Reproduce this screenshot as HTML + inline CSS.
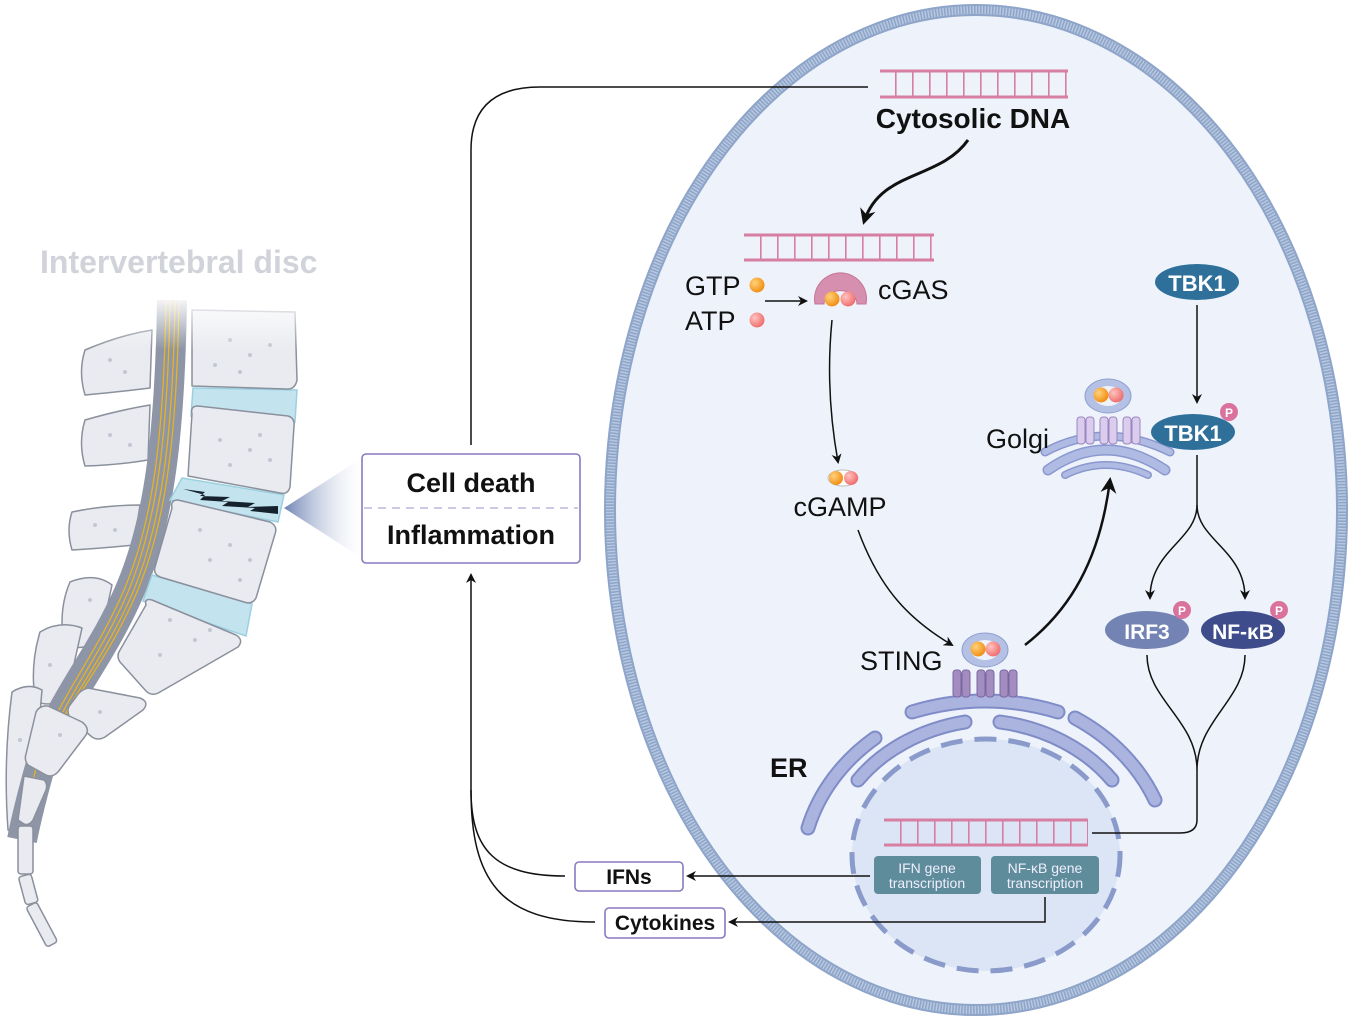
<!DOCTYPE html>
<html><head><meta charset="utf-8"><style>
html,body{margin:0;padding:0;background:#fff;}
svg{display:block;font-family:"Liberation Sans",Arial,sans-serif;}
</style></head><body>
<svg width="1350" height="1019" viewBox="0 0 1350 1019" xmlns="http://www.w3.org/2000/svg">
<defs>
<marker id="ah" markerWidth="10" markerHeight="10" refX="8" refY="5" orient="auto" markerUnits="userSpaceOnUse"><path d="M0,0 L10,5 L0,10 L3,5 Z" fill="#111"/></marker>
<marker id="ahb" markerWidth="16" markerHeight="16" refX="13" refY="8" orient="auto" markerUnits="userSpaceOnUse"><path d="M0,0 L16,8 L0,16 L5,8 Z" fill="#111"/></marker>
<linearGradient id="tri" x1="0" x2="1" y1="0" y2="0"><stop offset="0" stop-color="#6f84b4"/><stop offset="1" stop-color="#ffffff" stop-opacity="0.2"/></linearGradient>
<linearGradient id="fade" x1="0" x2="0" y1="0" y2="1"><stop offset="0" stop-color="#fff" stop-opacity="1"/><stop offset="1" stop-color="#fff" stop-opacity="0"/></linearGradient>
<radialGradient id="org" cx="0.35" cy="0.35" r="0.7"><stop offset="0" stop-color="#ffd27a"/><stop offset="1" stop-color="#f08c10"/></radialGradient>
<radialGradient id="pnk" cx="0.35" cy="0.35" r="0.7"><stop offset="0" stop-color="#ffc4c0"/><stop offset="1" stop-color="#ee6a6a"/></radialGradient>
</defs>

<!-- ===== Spine ===== -->
<g stroke="#8a909c" stroke-width="1.5" fill="#e9ebf0" stroke-linejoin="round">
  <path d="M85,350 Q120,335 152,330 L150,388 Q118,392 85,395 Q78,372 85,350Z"/>
  <path d="M85,420 Q120,410 150,405 L148,460 Q118,465 85,466 Q78,443 85,420Z"/>
  <path d="M72,512 Q105,505 140,505 L134,545 Q105,548 72,550 Q66,530 72,512Z"/>
  <path d="M70,582 Q95,572 112,585 L100,640 Q82,652 64,645 Q58,610 70,582Z"/>
  <path d="M40,632 Q60,620 82,628 L66,700 Q45,708 35,700 Q30,665 40,632Z"/>
  <path d="M12,692 Q28,682 42,690 L30,830 Q18,838 8,830 Q3,760 12,692Z"/>
</g>
<!-- cord -->
<path d="M172,300 C170,430 160,520 130,590 C100,660 60,700 42,760 C32,795 26,820 22,840" stroke="#8d95a6" stroke-width="30" fill="none"/>
<g stroke="#e8b320" stroke-width="1.3" fill="none">
 <path d="M166,300 C164,430 154,520 124,590 C94,660 56,700 38,760 C30,790 28,810 26,820"/>
 <path d="M170,300 C168,430 158,520 128,592 C98,662 60,702 42,762"/>
 <path d="M175,300 C173,430 163,520 133,592 C103,662 66,702 48,750"/>
 <path d="M179,300 C177,430 167,520 137,592 C108,660 72,700 55,735"/>
</g>
<!-- discs -->
<g fill="#c3e4ef" stroke="#9ccfe0" stroke-width="1.5">
  <path d="M193,388 L297,390 L295,422 L191,416Z"/>
  <path d="M182,478 L284,495 L278,522 L170,500Z"/>
  <path d="M152,575 L252,604 L246,636 L143,601Z"/>
</g>
<path d="M183,489 L205,492 L200,496 L230,497 L222,501 L255,503 L248,507 L278,506 L278,514 L250,511 L255,508 L222,506 L228,502 L200,500 L205,495Z" fill="#15222e"/>
<!-- bodies -->
<g stroke="#8a909c" stroke-width="1.5" fill="#e9ebf0" stroke-linejoin="round">
  <path d="M192,310 L295,312 L297,380 Q295,390 286,389 L192,386Z"/>
  <path d="M192,414 Q190,406 198,406 L288,416 Q295,418 294,426 L290,487 Q288,495 280,493 L188,476Z"/>
  <path d="M172,508 Q170,500 178,500 L270,522 Q278,526 275,534 L256,598 Q252,605 244,602 L160,577 Q153,574 155,567Z"/>
  <path d="M146,605 Q144,598 152,600 L236,635 Q244,640 238,647 L160,692 Q152,697 146,691 L120,662 Q116,656 120,650Z"/>
  <path d="M76,697 Q80,690 88,688 L140,698 Q150,702 143,710 L105,737 Q98,741 92,737 L70,718 Q66,710 70,705Z"/>
  <path d="M36,712 Q40,705 48,706 L82,722 Q90,728 86,735 L58,772 Q52,778 46,775 L28,765 Q24,760 26,754Z"/>
  <path d="M24,776 L44,780 Q48,784 46,790 L33,820 Q29,826 24,824 L18,820 Z"/>
  <rect x="18" y="826" width="15" height="48" rx="3"/>
  <rect x="22" y="875" width="13" height="29" rx="3" transform="rotate(-15 28 890)"/>
  <rect x="36" y="902" width="12" height="45" rx="3" transform="rotate(-28 42 925)"/>
</g>
<g fill="#c2c7d2">
  <circle cx="230" cy="340" r="2"/><circle cx="250" cy="355" r="2"/><circle cx="270" cy="345" r="2"/><circle cx="215" cy="365" r="2"/><circle cx="240" cy="372" r="2"/>
  <circle cx="220" cy="440" r="2"/><circle cx="250" cy="450" r="2"/><circle cx="270" cy="460" r="2"/><circle cx="230" cy="465" r="2"/><circle cx="260" cy="435" r="2"/>
  <circle cx="200" cy="530" r="2"/><circle cx="230" cy="545" r="2"/><circle cx="250" cy="560" r="2"/><circle cx="210" cy="560" r="2"/><circle cx="240" cy="580" r="2"/>
  <circle cx="170" cy="620" r="2"/><circle cx="195" cy="640" r="2"/><circle cx="210" cy="630" r="2"/><circle cx="160" cy="655" r="2"/>
  <circle cx="110" cy="360" r="2"/><circle cx="125" cy="372" r="2"/><circle cx="110" cy="435" r="2"/><circle cx="130" cy="445" r="2"/>
  <circle cx="95" cy="525" r="2"/><circle cx="115" cy="530" r="2"/><circle cx="90" cy="600" r="2"/><circle cx="50" cy="665" r="2"/>
  <circle cx="100" cy="712" r="2"/><circle cx="60" cy="735" r="2"/><circle cx="20" cy="740" r="2"/>
</g>
<rect x="60" y="295" width="250" height="55" fill="url(#fade)"/>
<text x="40" y="273" font-size="32" font-weight="bold" fill="#d0d3d9">Intervertebral disc</text>

<!-- pointer triangle -->
<path d="M284,508 L362,458 L362,558Z" fill="url(#tri)"/>

<!-- box -->
<rect x="362" y="454" width="218" height="109" rx="4" fill="#fff" stroke="#8a79c0" stroke-width="1.6"/>
<line x1="364" y1="508" x2="578" y2="508" stroke="#9a90cc" stroke-width="1" stroke-dasharray="8 6"/>
<text x="471" y="492" font-size="27" font-weight="bold" text-anchor="middle" fill="#111">Cell death</text>
<text x="471" y="544" font-size="27" font-weight="bold" text-anchor="middle" fill="#111">Inflammation</text>

<!-- ===== Cell ===== -->
<ellipse cx="976" cy="510" rx="368" ry="502" fill="#eef3fb" stroke="#dfe8f5" stroke-width="8"/>
<ellipse cx="976" cy="510" rx="366" ry="500" fill="none" stroke="#8ea5c9" stroke-width="12"/>
<ellipse cx="976" cy="510" rx="366" ry="500" fill="none" stroke="#b7c8e0" stroke-width="8" stroke-dasharray="1.5 1.5"/>

<!-- feedback line -->
<path d="M471,445 L471,150 Q471,87 540,87 L868,87" fill="none" stroke="#111" stroke-width="1.5"/>

<!-- DNA ladders -->
<g stroke="#d77ea3" fill="none">
 <line x1="880" y1="71" x2="1068" y2="71" stroke-width="3"/><line x1="880" y1="97" x2="1068" y2="97" stroke-width="3"/>
 <line x1="895" y1="84" x2="1068" y2="84" stroke-width="24" stroke-dasharray="1.6 15.4"/>
 <line x1="744" y1="235" x2="934" y2="235" stroke-width="3"/><line x1="744" y1="260" x2="934" y2="260" stroke-width="3"/>
 <line x1="760" y1="247" x2="934" y2="247" stroke-width="24" stroke-dasharray="1.6 15.4"/>
</g>
<text x="973" y="128" font-size="28" font-weight="bold" text-anchor="middle" fill="#111">Cytosolic DNA</text>
<path d="M968,140 C940,180 880,170 864,222" fill="none" stroke="#111" stroke-width="3" marker-end="url(#ahb)"/>

<!-- cGAS -->
<path d="M815,304 A26,26 0 1 1 866,304 L857,304 A16,13 0 0 0 824,304Z" fill="#d68fae" stroke="#c67598" stroke-width="1"/>
<circle cx="832" cy="299" r="7.5" fill="url(#org)"/><circle cx="848" cy="299" r="7.5" fill="url(#pnk)"/>
<text x="878" y="299" font-size="27" fill="#111">cGAS</text>
<text x="685" y="295" font-size="27" fill="#111">GTP</text>
<text x="685" y="330" font-size="27" fill="#111">ATP</text>
<circle cx="757" cy="285" r="7.5" fill="url(#org)"/><circle cx="757" cy="320" r="7.5" fill="url(#pnk)"/>
<line x1="765" y1="301" x2="806" y2="301" stroke="#111" stroke-width="1.5" marker-end="url(#ah)"/>
<path d="M832,320 Q825,390 838,462" fill="none" stroke="#111" stroke-width="1.5" marker-end="url(#ah)"/>
<ellipse cx="843" cy="478" rx="15" ry="8" fill="#fff" stroke="#bbb"/>
<circle cx="836" cy="478" r="7" fill="url(#org)"/><circle cx="851" cy="478" r="7" fill="url(#pnk)"/>
<text x="840" y="516" font-size="27" text-anchor="middle" fill="#111">cGAMP</text>
<path d="M858,530 C880,590 910,620 952,645" fill="none" stroke="#111" stroke-width="1.5" marker-end="url(#ah)"/>

<!-- Nucleus -->
<ellipse cx="986" cy="855" rx="134" ry="116" fill="#dce5f5" stroke="#8a9bcb" stroke-width="5" stroke-dasharray="22 12"/>
<!-- ER -->
<g fill="none" stroke-linecap="round">
 <path d="M808,828 A200,175 0 0 1 875,738" stroke="#7f8cc8" stroke-width="15"/>
 <path d="M808,828 A200,175 0 0 1 875,738" stroke="#aab4de" stroke-width="11"/>
 <path d="M858,780 A170,140 0 0 1 965,722" stroke="#7f8cc8" stroke-width="15"/>
 <path d="M858,780 A170,140 0 0 1 965,722" stroke="#aab4de" stroke-width="11"/>
 <path d="M912,712 Q985,690 1058,712" stroke="#7f8cc8" stroke-width="15"/>
 <path d="M912,712 Q985,690 1058,712" stroke="#aab4de" stroke-width="11"/>
 <path d="M1000,722 A170,140 0 0 1 1112,780" stroke="#7f8cc8" stroke-width="15"/>
 <path d="M1000,722 A170,140 0 0 1 1112,780" stroke="#aab4de" stroke-width="11"/>
 <path d="M1075,718 A200,175 0 0 1 1155,800" stroke="#7f8cc8" stroke-width="15"/>
 <path d="M1075,718 A200,175 0 0 1 1155,800" stroke="#aab4de" stroke-width="11"/>
</g>
<text x="770" y="777" font-size="27" font-weight="bold" fill="#111">ER</text>

<!-- STING on ER -->
<g fill="#a38cc0" stroke="#7a67a0" stroke-width="1">
 <rect x="953" y="670" width="8" height="27" rx="3"/><rect x="962" y="670" width="8" height="27" rx="3"/>
 <rect x="977" y="670" width="8" height="27" rx="3"/><rect x="986" y="670" width="8" height="27" rx="3"/>
 <rect x="1000" y="670" width="8" height="27" rx="3"/><rect x="1009" y="670" width="8" height="27" rx="3"/>
</g>
<ellipse cx="985" cy="650" rx="23" ry="17" fill="#b4c0e4" stroke="#8f9fd0"/>
<ellipse cx="985" cy="650" rx="14" ry="10" fill="#eef3fb"/>
<circle cx="978" cy="649" r="7.5" fill="url(#org)"/><circle cx="993" cy="649" r="7.5" fill="url(#pnk)"/>
<text x="860" y="670" font-size="27" fill="#111">STING</text>
<path d="M1025,645 C1070,610 1100,560 1110,480" fill="none" stroke="#111" stroke-width="2.5" marker-end="url(#ahb)"/>

<!-- Golgi -->
<g fill="none" stroke-linecap="round">
 <path d="M1048,470 Q1105,430 1165,470" stroke="#8a98cf" stroke-width="11"/><path d="M1048,470 Q1105,430 1165,470" stroke="#b0bbe3" stroke-width="8"/>
 <path d="M1065,475 Q1105,455 1148,475" stroke="#8a98cf" stroke-width="8"/><path d="M1065,475 Q1105,455 1148,475" stroke="#b0bbe3" stroke-width="5"/>
 <path d="M1045,452 Q1105,420 1170,452" stroke="#8a98cf" stroke-width="9"/><path d="M1045,452 Q1105,420 1170,452" stroke="#b0bbe3" stroke-width="6"/>
</g>
<g fill="#d9ccec" stroke="#9a86c0" stroke-width="1">
 <rect x="1077" y="417" width="8" height="27" rx="3"/><rect x="1086" y="417" width="8" height="27" rx="3"/>
 <rect x="1100" y="417" width="8" height="27" rx="3"/><rect x="1109" y="417" width="8" height="27" rx="3"/>
 <rect x="1123" y="417" width="8" height="27" rx="3"/><rect x="1132" y="417" width="8" height="27" rx="3"/>
</g>
<ellipse cx="1108" cy="396" rx="23" ry="17" fill="#b4c0e4" stroke="#8f9fd0"/>
<ellipse cx="1108" cy="396" rx="14" ry="10" fill="#eef3fb"/>
<circle cx="1101" cy="395" r="7.5" fill="url(#org)"/><circle cx="1116" cy="395" r="7.5" fill="url(#pnk)"/>
<text x="986" y="448" font-size="27" fill="#111">Golgi</text>

<!-- TBK1 -->
<ellipse cx="1197" cy="282" rx="42" ry="18" fill="#2f709b"/>
<text x="1197" y="291" font-size="22" font-weight="bold" fill="#fff" text-anchor="middle">TBK1</text>
<line x1="1197" y1="305" x2="1197" y2="402" stroke="#111" stroke-width="1.5" marker-end="url(#ah)"/>
<ellipse cx="1193" cy="432" rx="42" ry="18" fill="#2f709b"/>
<text x="1193" y="441" font-size="22" font-weight="bold" fill="#fff" text-anchor="middle">TBK1</text>
<path d="M1197,455 L1197,505 C1197,540 1150,550 1150,598" fill="none" stroke="#111" stroke-width="1.5" marker-end="url(#ah)"/>
<path d="M1197,505 C1197,540 1245,550 1245,598" fill="none" stroke="#111" stroke-width="1.5" marker-end="url(#ah)"/>
<ellipse cx="1147" cy="630" rx="42" ry="19" fill="#7383b4"/>
<text x="1147" y="639" font-size="21" font-weight="bold" fill="#fff" text-anchor="middle">IRF3</text>
<ellipse cx="1243" cy="630" rx="42" ry="19" fill="#3e4c8c"/>
<text x="1243" y="639" font-size="21" font-weight="bold" fill="#fff" text-anchor="middle">NF-κB</text>
<g fill="#d9739e"><circle cx="1229" cy="412" r="9"/><circle cx="1182" cy="610" r="9"/><circle cx="1279" cy="610" r="9"/></g>
<g font-size="12" font-weight="bold" fill="#fff" text-anchor="middle"><text x="1229" y="417">P</text><text x="1182" y="615">P</text><text x="1279" y="615">P</text></g>
<path d="M1147,655 C1147,700 1197,720 1197,770 M1245,655 C1245,700 1197,720 1197,770 L1197,820 Q1197,833 1180,833 L1092,833" fill="none" stroke="#111" stroke-width="1.5"/>

<!-- nuclear DNA -->
<g stroke="#d77ea3" fill="none">
 <line x1="884" y1="820" x2="1088" y2="820" stroke-width="3"/><line x1="884" y1="845" x2="1088" y2="845" stroke-width="3"/>
 <line x1="900" y1="832" x2="1088" y2="832" stroke-width="24" stroke-dasharray="1.6 15.4"/>
</g>
<rect x="874" y="856" width="107" height="38" rx="4" fill="#5f8c9a"/>
<rect x="991" y="856" width="108" height="38" rx="4" fill="#5f8c9a"/>
<g font-size="14" fill="#eef" text-anchor="middle">
 <text x="927" y="873">IFN gene</text><text x="927" y="888">transcription</text>
 <text x="1045" y="873">NF-κB gene</text><text x="1045" y="888">transcription</text>
</g>

<!-- outputs -->
<line x1="870" y1="876" x2="688" y2="876" stroke="#111" stroke-width="1.5" marker-end="url(#ah)"/>
<path d="M1045,897 L1045,922 L730,922" fill="none" stroke="#111" stroke-width="1.5" marker-end="url(#ah)"/>
<rect x="575" y="862" width="108" height="29" rx="4" fill="#fff" stroke="#8a79c0" stroke-width="1.6"/>
<text x="629" y="884" font-size="21" font-weight="bold" text-anchor="middle" fill="#111">IFNs</text>
<rect x="605" y="908" width="120" height="30" rx="4" fill="#fff" stroke="#8a79c0" stroke-width="1.6"/>
<text x="665" y="930" font-size="21" font-weight="bold" text-anchor="middle" fill="#111">Cytokines</text>
<path d="M565,876 C495,876 471,850 471,790 L471,575" fill="none" stroke="#111" stroke-width="1.5" marker-end="url(#ah)"/>
<path d="M595,922 C500,922 471,880 471,790" fill="none" stroke="#111" stroke-width="1.5"/>
</svg>
</body></html>
